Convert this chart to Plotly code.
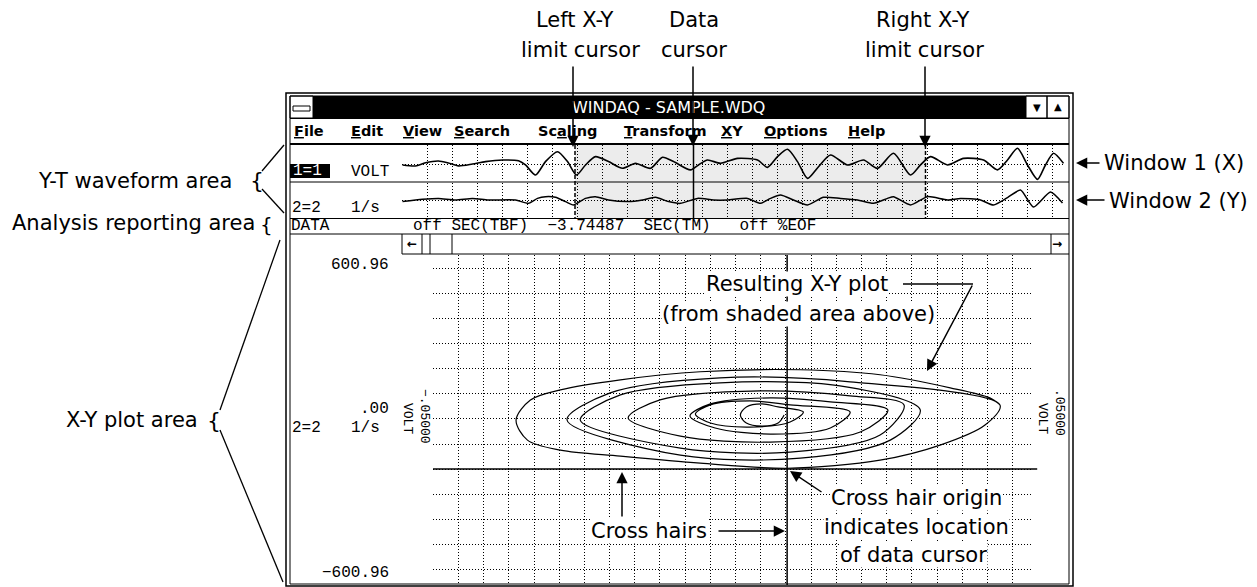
import plotly.graph_objects as go

W, H = 1257, 587

# ---------------- chart data ----------------
# Window 1 (X): channel 1 (VOLT) against time, time in grid divisions
time_1 = [0, 0.52, 0.92, 1.44, 1.84, 2.24, 2.8, 3.32, 4.0, 4.64,
          4.92, 5.32, 5.72, 6.2, 6.6, 6.96, 7.32, 7.72, 8.24, 8.8,
          9.32, 9.92, 10.4, 10.84, 11.52, 11.84, 12.2, 12.72, 13.4, 14.2,
          14.6, 15.0, 15.4, 15.8, 16.2, 16.64, 17.12, 17.8, 18.44, 19.0,
          19.64, 20.32, 20.72, 21.12, 21.8, 22.44, 23.24, 23.8, 24.2, 24.6,
          25.0, 25.4, 25.72, 26.04, 26.44]
volt_1 = [-0.06, -0.12, 0.08, 0.19, 0.06, -0.12, 0.0, 0.15, 0.25, 0.2,
          -0.06, -0.69, 0.15, 0.77, 0.15, -0.69, -0.06, 0.46, 0.15, -0.27,
          0.04, -0.27, 0.42, 0.15, -0.37, -0.06, 0.25, 0.04, 0.35, 0.25,
          -0.21, 0.46, 0.92, 0.15, -0.9, -0.17, 0.56, -0.06, 0.25, -0.27,
          0.67, -0.69, -0.06, 0.46, -0.06, 0.35, 0.25, -0.37, 0.25, 0.98,
          -0.06, -0.96, -0.06, 0.67, 0.04]

# Window 2 (Y): channel 2 (1/s) against time
time_2 = [0, 0.8, 1.44, 2.12, 2.8, 3.44, 4.52, 5.04, 5.4, 5.72,
          6.12, 6.52, 6.84, 7.32, 7.72, 8.24, 9.04, 9.6, 10.12, 10.64,
          11.12, 11.8, 12.44, 13.0, 13.8, 14.32, 14.72, 15.12, 15.64, 16.2,
          16.84, 17.52, 18.2, 18.84, 19.4, 19.64, 20.32, 21.0, 21.8, 22.32,
          23.12, 23.64, 24.2, 24.72, 25.24, 25.92, 26.4]
rate_2 = [-0.1, 0.04, 0.1, 0.0, 0.1, 0.0, 0.0, -0.21, 0.1, 0.21,
          0.17, -0.1, -0.31, 0.1, 0.21, 0.0, -0.1, 0.0, 0.17, -0.1,
          -0.21, 0.1, 0.0, 0.0, 0.1, -0.21, 0.1, 0.31, 0.0, -0.31,
          0.17, 0.1, 0.0, -0.21, 0.1, 0.21, -0.31, 0.21, 0.0, 0.1,
          0.0, -0.31, 0.15, 0.62, -0.44, 0.5, -0.19]

# cursor times: left X-Y limit, data cursor, right X-Y limit
cursor_times = [6.9, 11.64, 20.92]

# X-Y plot: X = channel 1 (mV), Y = channel 2 (1/s)
xy_mvolt = [8.5, 7.5, 4.8, 2.2, 1.2, 2.2, 4.8, 7.5,
            11.7, 9.5, 2.8, -3.8, -6.3, -3.8, 2.8, 9.5,
            19.5, 16.2, 6.2, -3.0, -7.2, -3.8, 6.2, 16.2,
            25.8, 21.2, 6.2, -8.8, -17.5, -12.2, 4.5, 19.5,
            28.5, 24.5, 9.5, -8.8, -25.5, -18.8, -2.2, 17.8,
            31.2, 26.2, 11.2, -8.8, -27.7, -20.5, -2.2, 19.5,
            44.5, 42.0, 34.5, 24.5, 9.0, -5.5, -18.8, -28.8, -34.3,
            -36.2, -33.8, -28.8, -18.8, -5.5, 11.2, 24.5, 36.2, 42.8, 44.5]
xy_rate = [16, -16, -28, -16, 16, 48, 60, 48,
           28, -12, -32, -16, 20, 56, 72, 56,
           28, -36, -60, -36, 12, 60, 84, 68,
           36, -52, -92, -68, 4, 76, 112, 92,
           56, -64, -132, -116, -4, 96, 144, 132,
           36, -84, -156, -144, -4, 104, 164, 148,
           56, -24, -104, -164, -196, -176, -148, -124, -84,
           -4, 76, 116, 156, 188, 196, 176, 124, 84, 56]
crosshair = [9.0, -199.0]          # X-Y position of the data cursor
rate_scale = ["600.96", ".00", "\u2212600.96"]
volt_scale = ["\u2212.05000", ".05000"]

menu_labels = ["<u>F</u>ile", "<u>E</u>dit", "<u>V</u>iew", "<u>S</u>earch",
               "Sc<u>a</u>ling", "<u>T</u>ransform", "<u>X</u>Y",
               "<u>O</u>ptions", "<u>H</u>elp"]

# ---------------- layout helpers (pixel coordinates) ----------------
menu_x = [293, 350, 402, 453, 537, 623, 720, 763, 847]
SANS = "DejaVu Sans"
MONO = "Liberation Mono"

shapes = []
anns = []


def seg(x0, y0, x1, y1, w=1.0, dash="solid", xref="x", yref="y", layer="above"):
    shapes.append(dict(type="line", x0=x0, y0=y0, x1=x1, y1=y1, xref=xref, yref=yref,
                       layer=layer, line=dict(color="black", width=w, dash=dash)))


def box(x0, y0, x1, y1, fill="rgba(0,0,0,0)", w=1.0, xref="x", yref="y", layer="above"):
    shapes.append(dict(type="rect", x0=x0, y0=y0, x1=x1, y1=y1, xref=xref, yref=yref,
                       layer=layer, fillcolor=fill,
                       line=dict(color="black", width=w)))


def txt(s, x, y, size=21, family=SANS, color="black", xanchor="center", bg=None, angle=0):
    d = dict(text=s, x=x, y=y, xref="x", yref="y", showarrow=False, xanchor=xanchor,
             yanchor="middle", font=dict(family=family, size=size, color=color),
             textangle=angle, borderpad=0)
    if bg:
        d["bgcolor"] = bg
    anns.append(d)


def arr(xt, yt, xa, ya):
    anns.append(dict(text="", x=xt, y=yt, ax=xa, ay=ya, xref="x", yref="y",
                     axref="x", ayref="y", showarrow=True, arrowhead=2,
                     arrowsize=1.5, arrowwidth=1.5, arrowcolor="black"))


# window chrome
box(286, 93, 1073, 586, w=1.5)
box(290, 96, 1069, 584, w=1)
box(313, 96, 1026, 118, fill="black", w=0)
box(290, 96, 313, 118)
box(293, 106, 310, 111, fill="white")
box(1026, 96, 1047, 118)
box(1047, 96, 1069, 118)
seg(290, 118.5, 1069, 118.5)
seg(290, 144, 1069, 144, w=2)
seg(290, 182, 1069, 182)
seg(290, 218.5, 1069, 218.5)
seg(290, 234, 1069, 234)
seg(402, 254, 1069, 254)
for xv in [402, 422, 430, 452, 1051]:
    seg(xv, 234, xv, 254)
box(290, 164, 330, 178, fill="black", w=0)

# shaded X-Y region and cursors in the Y-T windows
box(cursor_times[0], 145, cursor_times[2], 218, fill="#ececec", w=0,
    xref="x2", layer="below")
seg(cursor_times[0], 145, cursor_times[0], 218, w=1.5, dash="4px,2px", xref="x2")
seg(cursor_times[1], 145, cursor_times[1], 218, w=1.5, xref="x2")
seg(cursor_times[2], 145, cursor_times[2], 218, w=1.5, dash="4px,2px", xref="x2")

# cross hairs
seg(crosshair[0], 0, crosshair[0], 1, w=1.5, xref="x4", yref="y4 domain")
seg(0, crosshair[1], 1.007, crosshair[1], w=1.5, xref="x4 domain", yref="y4")

# brace pointer lines
seg(262, 171, 284, 145, w=1.3)
seg(262, 189, 284, 213, w=1.3)
seg(220, 410, 280, 240, w=1.3)
seg(220, 430, 283, 582, w=1.3)
seg(903, 284, 973, 284, w=1.5)

# window texts
txt("WINDAQ - SAMPLE.WDQ", 668, 107, size=16, color="white")
txt("\u25bc", 1037, 107, size=10)
txt("\u25b2", 1058, 106, size=10)
for lab, xm in zip(menu_labels, menu_x):
    txt("<b>" + lab + "</b>", xm, 131, size=14.5, xanchor="left")
txt("1=1", 292, 171, size=16, family=MONO, color="white", xanchor="left")
txt("VOLT", 350, 172, size=16, family=MONO, xanchor="left")
txt("2=2", 291, 208, size=16, family=MONO, xanchor="left")
txt("1/s", 350, 208, size=16, family=MONO, xanchor="left")
txt("DATA", 290, 226, size=16, family=MONO, xanchor="left")
txt("off SEC(TBF)  \u22123.74487  SEC(TM)   off %EOF".replace(" ", "\u00a0"),
    412, 226, size=16, family=MONO, xanchor="left")
txt("<b>\u2190</b>", 412, 244, size=12)
txt("<b>\u2192</b>", 1057, 244, size=12)

txt(rate_scale[0], 390, 265, size=16, family=MONO, xanchor="right")
txt(rate_scale[1], 390, 409, size=16, family=MONO, xanchor="right")
txt(rate_scale[2], 390, 573, size=16, family=MONO, xanchor="right")
txt("2=2", 291, 428, size=16, family=MONO, xanchor="left")
txt("1/s", 350, 428, size=16, family=MONO, xanchor="left")
txt("VOLT", 408, 418, size=13, family=MONO, angle=90)
txt(volt_scale[0], 425, 416, size=13, family=MONO, angle=90)
txt("VOLT", 1043, 418, size=13, family=MONO, angle=90)
txt(volt_scale[1], 1060, 412, size=13, family=MONO, angle=90)

# callouts
txt("Left X-Y", 575, 20)
txt("limit cursor", 580, 50)
txt("Data", 694, 20)
txt("cursor", 694, 50)
txt("Right X-Y", 922, 20)
txt("limit cursor", 924, 50)
arr(573, 147, 573, 65)
arr(693, 146, 693, 65)
arr(925, 147, 925, 65)

txt("Y-T waveform area", 135, 181)
txt("{", 257, 180, size=22)
txt("Analysis reporting area", 133, 223)
txt("{", 266, 225, size=20)
txt("X-Y plot area", 132, 420)
txt("{", 214, 420, size=22)

txt("Window 1 (X)", 1103, 163, xanchor="left")
arr(1076, 163, 1101, 163)
txt("Window 2 (Y)", 1108, 201, xanchor="left")
arr(1076, 200, 1106, 200)

txt("Resulting X-Y plot", 797, 284, bg="white")
txt("(from shaded area above)", 798, 314, bg="white")
arr(927, 371, 973, 284)

txt("Cross hairs", 649, 531, bg="white")
arr(622, 472, 622, 518)
arr(785, 531, 717, 531)
txt("Cross hair origin", 916, 498, bg="white")
txt("indicates location", 916, 527, bg="white")
txt("of data cursor", 913, 555, bg="white")
arr(790, 471, 823, 493)

# ---------------- figure ----------------
fig = go.Figure()
fig.add_trace(go.Scatter(x=[0], y=[0], mode="markers", marker=dict(opacity=0),
                         hoverinfo="skip", showlegend=False))
fig.add_trace(go.Scatter(x=time_1, y=volt_1, xaxis="x2", yaxis="y2", mode="lines",
                         line=dict(color="black", width=1.6, shape="spline", smoothing=0.7),
                         hoverinfo="skip", showlegend=False))
fig.add_trace(go.Scatter(x=time_2, y=rate_2, xaxis="x3", yaxis="y3", mode="lines",
                         line=dict(color="black", width=1.5, shape="spline", smoothing=0.6),
                         hoverinfo="skip", showlegend=False))
fig.add_trace(go.Scatter(x=xy_mvolt, y=xy_rate, xaxis="x4", yaxis="y4", mode="lines",
                         line=dict(color="black", width=1.2, shape="spline", smoothing=0.9),
                         hoverinfo="skip", showlegend=False))


def grid_axis(domain, rng, anchor, **kw):
    d = dict(domain=domain, range=rng, anchor=anchor, showgrid=True, gridcolor="black",
             gridwidth=1, griddash="1px,2px", zeroline=False, showline=False,
             showticklabels=False, ticks="", fixedrange=True)
    d.update(kw)
    return d


hidden = dict(visible=False, fixedrange=True, showgrid=False, zeroline=False)
fig.update_layout(
    width=W, height=H, autosize=False,
    margin=dict(l=0, r=0, t=0, b=0, pad=0),
    paper_bgcolor="white", plot_bgcolor="rgba(0,0,0,0)",
    hovermode=False, showlegend=False,
    xaxis=dict(domain=[0, 1], range=[0, W], **hidden),
    yaxis=dict(domain=[0, 1], range=[H, 0], **hidden),
    xaxis2=grid_axis([402 / W, 1064 / W], [-0.02, 26.46], "y2", tick0=0, dtick=1),
    yaxis2=grid_axis([1 - 181 / H, 1 - 145 / H], [-1.0625, 1.1875], "x2",
                     tickmode="array", tickvals=[0]),
    xaxis3=grid_axis([402 / W, 1064 / W], [-0.02, 26.46], "y3", tick0=0, dtick=1),
    yaxis3=grid_axis([1 - 217 / H, 1 - 183 / H], [-1.0625, 1.0625], "x3",
                     tickmode="array", tickvals=[0]),
    xaxis4=grid_axis([433 / W, 1033 / W], [-50.05, 50], "y4", tick0=-50, dtick=4.2),
    yaxis4=grid_axis([1 - 585 / H, 1 - 255 / H], [-660.7, 652.7], "x4",
                     tick0=0, dtick=100.16),
    shapes=shapes,
    annotations=anns,
)

fig.write_html("out.html", config={"displayModeBar": False},
               post_script="document.body.style.margin='0';"
                           "document.body.style.overflow='hidden';")
